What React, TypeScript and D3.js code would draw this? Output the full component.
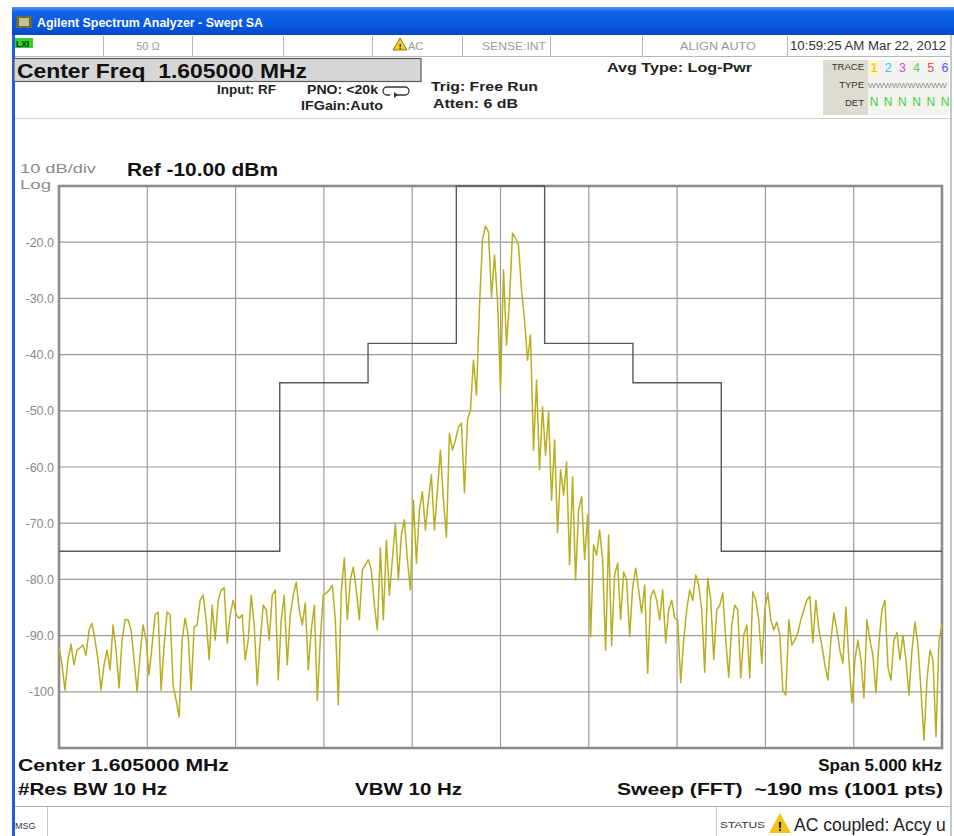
import React from 'react';
import * as d3 from 'd3';

const centerMHz = 1.605;
const spanKHz = 5;
const refLevelDbm = -10;
const bottomLevelDbm = -110;
const yTickValues = [-20, -30, -40, -50, -60, -70, -80, -90, -100];
const yTickLabels = ['-20.0', '-30.0', '-40.0', '-50.0', '-60.0', '-70.0', '-80.0', '-90.0', '-100'];
const xGridOffsetsKHz = [-2.5, -2, -1.5, -1, -0.5, 0, 0.5, 1, 1.5, 2, 2.5];
const yGridValues = [-10, -20, -30, -40, -50, -60, -70, -80, -90, -100, -110];
const maskOffsetsKHz = [-2.5, -1.25, -0.75, -0.25, 0.25, 0.75, 1.25, 2.5];
const maskLevelsDbm = [-75, -45, -38, -10, -38, -45, -75, -75];
const traceDigits = ['1', '2', '3', '4', '5', '6'];
const traceDigitColors = ['#f0b43a', '#3cc4f0', '#e04cdc', '#64cc64', '#f04c4c', '#5a5af0'];
const statusCells = [103, 192, 283, 372, 462, 550, 642, 787];

const traceDbm = [
  -92.0, -95.2, -99.7, -94.3, -91.5, -95.2, -92.6, -92.2, -91.7, -93.5, -89.0,
  -87.8, -90.8, -94.3, -99.7, -95.2, -92.6, -96.1, -88.1, -92.6, -99.3,
  -90.8, -87.2, -87.2, -89.0, -94.3, -100.0, -93.5, -88.1, -90.8, -97.0,
  -91.7, -86.3, -85.8, -99.7, -91.7, -85.8, -86.3, -98.8, -101.5, -104.5,
  -90.8, -86.9, -89.9, -99.7, -88.5, -88.1, -83.7, -82.8, -87.2, -94.3,
  -84.6, -90.8, -83.7, -81.9, -81.5, -91.3, -86.3, -83.7, -86.3, -86.9,
  -86.3, -94.3, -90.8, -82.8, -88.1, -98.8, -90.8, -84.6, -85.4, -90.8,
  -82.8, -81.9, -97.9, -87.2, -82.8, -95.2, -86.3, -82.8, -80.5, -85.4,
  -88.1, -84.2, -96.1, -89.0, -84.6, -101.5, -90.8, -82.8, -82.4, -81.9,
  -81.0, -87.2, -102.3, -81.9, -76.2, -87.2, -80.1, -77.8, -81.9, -87.2,
  -78.3, -77.4, -76.5, -78.3, -84.6, -89.0, -74.4, -87.2, -73.0, -82.8,
  -76.5, -70.0, -80.1, -72.1, -69.4, -76.5, -81.9, -65.9, -77.1, -67.7,
  -64.4, -71.2, -65.9, -61.4, -71.2, -64.1, -57.0, -65.9, -72.5, -54.0,
  -57.0, -55.2, -52.9, -52.2, -64.6, -51.6, -49.9, -41.0, -47.2, -31.5,
  -19.6, -17.1, -18.2, -29.8, -22.3, -30.3, -46.3, -24.9, -38.3, -30.3,
  -18.4, -19.3, -20.5, -28.5, -33.8, -41.0, -36.5, -57.0, -44.5, -60.5,
  -49.3, -57.9, -50.2, -65.9, -55.2, -71.7, -60.5, -65.0, -59.1, -77.4,
  -61.8, -80.1, -67.7, -65.3, -76.5, -68.5, -90.2, -73.9, -75.7, -71.2,
  -76.5, -92.6, -72.1, -91.7, -79.2, -77.1, -87.2, -78.7, -80.1, -90.2,
  -81.4, -78.0, -81.9, -86.0, -81.0, -96.7, -83.1, -81.9, -83.7, -87.2,
  -81.9, -91.3, -85.4, -83.7, -86.9, -87.2, -98.4, -90.8, -85.4, -81.9,
  -83.7, -79.2, -81.0, -85.4, -96.5, -79.8, -83.7, -94.3, -85.4, -84.6,
  -82.4, -90.8, -97.4, -88.1, -84.6, -85.4, -97.5, -89.9, -88.1, -97.5,
  -82.2, -83.7, -87.2, -94.9, -85.4, -82.4, -87.2, -89.0, -87.6, -89.9,
  -99.7, -100.6, -87.2, -91.7, -90.8, -89.5, -87.2, -85.4, -83.7, -83.0,
  -91.3, -83.7, -89.0, -91.7, -95.2, -97.9, -90.8, -86.0, -89.0, -92.6,
  -94.9, -84.9, -94.3, -102.0, -94.3, -90.8, -94.3, -101.1, -87.2, -90.8,
  -93.5, -100.2, -91.3, -85.4, -83.7, -95.6, -97.9, -90.8, -89.5, -94.3,
  -89.9, -94.3, -100.6, -92.6, -87.6, -91.7, -99.7, -108.6, -97.9, -92.6,
  -94.3, -108.0, -90.8, -88.1,
];

const W = 954;
const H = 836;
const plot = { left: 59, right: 942, top: 186, bottom: 748 };
const FONT = '"Liberation Sans", Arial, sans-serif';

export default function App() {
  const x = d3.scaleLinear().domain([-spanKHz / 2, spanKHz / 2]).range([plot.left, plot.right]);
  const y = d3.scaleLinear().domain([bottomLevelDbm, refLevelDbm]).range([plot.bottom, plot.top]);
  const n = traceDbm.length;
  const tracePts = traceDbm.map((v, i) => [-spanKHz / 2 + (i * spanKHz) / (n - 1), v] as [number, number]);
  const traceLine = d3.line<[number, number]>().x((d) => x(d[0])).y((d) => y(Math.max(bottomLevelDbm, d[1])));
  const maskPts = maskOffsetsKHz.map((f, i) => [f, maskLevelsDbm[i]] as [number, number]);
  const maskLine = d3.line<[number, number]>().x((d) => x(d[0])).y((d) => y(d[1])).curve(d3.curveStepAfter);

  const bold = { fontFamily: FONT, fontWeight: 700 } as const;

  return (
    <svg width={W} height={H} style={{ position: 'absolute', left: 0, top: 0, background: '#fff' }}>
      <defs>
        <linearGradient id="tb" x1="0" y1="0" x2="0" y2="1">
          <stop offset="0" stopColor="#4f95f6" />
          <stop offset="0.18" stopColor="#1363ea" />
          <stop offset="0.7" stopColor="#0656e0" />
          <stop offset="1" stopColor="#0a47c2" />
        </linearGradient>
      </defs>
      <rect x={0} y={0} width={W} height={H} fill="#fff" />
      {/* title bar */}
      <rect x={12} y={7} width={W - 12} height={28} fill="url(#tb)" />
      <rect x={16} y={16} width={16} height={12} fill="#6b6a3a" />
      <rect x={19} y={18} width={10} height={8} fill="#c8c090" />
      <text x={37} y={27} fill="#fff" fontSize={13} textLength={226} lengthAdjust="spacingAndGlyphs" style={bold}>
        Agilent Spectrum Analyzer - Swept SA
      </text>
      {/* left blue border */}
      <rect x={12} y={35} width={3} height={H - 35} fill="#1b5fe0" />
      <rect x={950} y={35} width={2} height={H - 35} fill="#c8c8c8" />
      {/* status row */}
      <line x1={15} x2={950} y1={56.5} y2={56.5} stroke="#b8b8b8" />
      {statusCells.map((cx) => (
        <line key={cx} x1={cx + 0.5} x2={cx + 0.5} y1={36} y2={56} stroke="#b8b8b8" />
      ))}
      <rect x={15} y={38} width={18} height={10} fill="#2fd02f" />
      <text x={16} y={47} fontSize={8.5} fill="#103010" style={bold}>LXI</text>
      <text x={148} y={50} fontSize={11} fill="#9a9a9a" textAnchor="middle" fontFamily={FONT}>50 Ω</text>
      <path d="M400,38 L407,50 L393,50 Z" fill="#f4d020" stroke="#6a5a00" strokeWidth={0.8} />
      <text x={400} y={49} fontSize={8} textAnchor="middle" fill="#000" style={bold}>!</text>
      <text x={408} y={50} fontSize={11} fill="#9a9a9a" fontFamily={FONT}>AC</text>
      <text x={482} y={50} fontSize={11} fill="#9a9a9a" fontFamily={FONT} textLength={64} lengthAdjust="spacingAndGlyphs">SENSE:INT</text>
      <text x={680} y={50} fontSize={11} fill="#9a9a9a" fontFamily={FONT} textLength={76} lengthAdjust="spacingAndGlyphs">ALIGN AUTO</text>
      <text x={790} y={50} fontSize={12.5} fill="#333" fontFamily={FONT} textLength={156} lengthAdjust="spacingAndGlyphs">10:59:25 AM Mar 22, 2012</text>
      {/* center freq box */}
      <rect x={14} y={58.5} width={407} height={23} fill="#d6d6d6" stroke="#5a5a5a" strokeWidth={1.2} />
      <text x={17} y={78} fontSize={20} fill="#111" textLength={290} lengthAdjust="spacingAndGlyphs" style={bold} xmlSpace="preserve">
        Center Freq  1.605000 MHz
      </text>
      <text x={217} y={94} fontSize={12} fill="#222" textLength={59} lengthAdjust="spacingAndGlyphs" style={bold}>Input: RF</text>
      <text x={307} y={94} fontSize={12} fill="#222" textLength={71} lengthAdjust="spacingAndGlyphs" style={bold}>PNO: &lt;20k</text>
      <path d="M387,87 h18 a4,4 0 0 1 0,8 h-10" fill="none" stroke="#333" strokeWidth={1.3} />
      <path d="M387,87 a4,4 0 0 0 0,8 h3" fill="none" stroke="#333" strokeWidth={1.3} />
      <path d="M394,92 l4,3 l-4,3 z" fill="#333" />
      <text x={301} y={110} fontSize={12} fill="#222" textLength={82} lengthAdjust="spacingAndGlyphs" style={bold}>IFGain:Auto</text>
      <text x={431} y={91} fontSize={13} fill="#222" textLength={107} lengthAdjust="spacingAndGlyphs" style={bold}>Trig: Free Run</text>
      <text x={433} y={108} fontSize={13} fill="#222" textLength={85} lengthAdjust="spacingAndGlyphs" style={bold}>Atten: 6 dB</text>
      <text x={607} y={72} fontSize={13} fill="#222" textLength={145} lengthAdjust="spacingAndGlyphs" style={bold}>Avg Type: Log-Pwr</text>
      {/* trace panel */}
      <rect x={823} y={60} width={45} height={55} fill="#dedbd0" />
      <rect x={868} y={60} width={81} height={55} fill="#f3f3ef" />
      <text x={864} y={70} fontSize={9.5} textAnchor="end" fill="#333" fontFamily={FONT}>TRACE</text>
      <text x={864} y={88} fontSize={9.5} textAnchor="end" fill="#333" fontFamily={FONT}>TYPE</text>
      <text x={864} y={106} fontSize={9.5} textAnchor="end" fill="#333" fontFamily={FONT}>DET</text>
      <rect x={869} y={61} width={10} height={14} fill="#fff6c0" />
      {traceDigits.map((d, i) => (
        <text key={d} x={874 + i * 14.2} y={72} fontSize={12.5} textAnchor="middle" fill={traceDigitColors[i]} fontFamily={FONT}>{d}</text>
      ))}
      <text x={868} y={88} fontSize={8} fill="#8a8a8a" fontFamily={FONT} textLength={79} lengthAdjust="spacingAndGlyphs">WWWWWWWWWW</text>
      {traceDigits.map((d, i) => (
        <text key={'n' + d} x={874 + i * 14.2} y={106} fontSize={12} textAnchor="middle" fill="#3fd03f" fontFamily={FONT}>N</text>
      ))}
      <line x1={15} x2={950} y1={118.5} y2={118.5} stroke="#cfcfcf" />
      {/* scale info */}
      <text x={20} y={173} fontSize={13.5} fill="#8a8a8a" fontFamily={FONT} textLength={76} lengthAdjust="spacingAndGlyphs">10 dB/div</text>
      <text x={20} y={189} fontSize={12.5} fill="#8a8a8a" fontFamily={FONT} textLength={31} lengthAdjust="spacingAndGlyphs">Log</text>
      <text x={127} y={176} fontSize={18} fill="#111" textLength={151} lengthAdjust="spacingAndGlyphs" style={bold}>Ref -10.00 dBm</text>
      {/* grid */}
      <g stroke="#9c9c9c" strokeWidth={1.2}>
        {xGridOffsetsKHz.map((f) => (
          <line key={'gx' + f} x1={x(f)} x2={x(f)} y1={plot.top} y2={plot.bottom} />
        ))}
        {yGridValues.map((v) => (
          <line key={'gy' + v} x1={plot.left} x2={plot.right} y1={y(v)} y2={y(v)} />
        ))}
      </g>
      <rect x={plot.left} y={plot.top} width={plot.right - plot.left} height={plot.bottom - plot.top} fill="none" stroke="#8c8c8c" strokeWidth={2.6} />
      {yTickValues.map((v, i) => (
        <text key={'yl' + v} x={54} y={y(v) + 4.5} fontSize={12.5} textAnchor="end" fill="#8a8a8a" fontFamily={FONT}>
          {yTickLabels[i]}
        </text>
      ))}
      {/* mask */}
      <path d={maskLine(maskPts) || ''} fill="none" stroke="#5a5a5a" strokeWidth={1.4} />
      {/* trace */}
      <path d={traceLine(tracePts) || ''} fill="none" stroke="#b8af20" strokeWidth={1.5} strokeLinejoin="round" />
      {/* bottom annotations */}
      <text x={18} y={771} fontSize={17} fill="#111" textLength={211} lengthAdjust="spacingAndGlyphs" style={bold}>
        Center {centerMHz.toFixed(6)} MHz
      </text>
      <text x={942} y={771} fontSize={17} fill="#111" textAnchor="end" style={bold}>Span 5.000 kHz</text>
      <text x={18} y={795} fontSize={17} fill="#111" textLength={149} lengthAdjust="spacingAndGlyphs" style={bold}>#Res BW 10 Hz</text>
      <text x={355} y={795} fontSize={17} fill="#111" textLength={107} lengthAdjust="spacingAndGlyphs" style={bold}>VBW 10 Hz</text>
      <text x={617} y={795} fontSize={17} fill="#111" textLength={326} lengthAdjust="spacingAndGlyphs" style={bold} xmlSpace="preserve">Sweep (FFT)  ~190 ms (1001 pts)</text>
      {/* status bar */}
      <line x1={15} x2={950} y1={806.5} y2={806.5} stroke="#b0b0b0" />
      <line x1={47.5} x2={47.5} y1={807} y2={836} stroke="#c8c8c8" />
      <line x1={716.5} x2={716.5} y1={807} y2={836} stroke="#c8c8c8" />
      <text x={15} y={829} fontSize={9} fill="#333" fontFamily={FONT}>MSG</text>
      <text x={720} y={828} fontSize={9} fill="#333" fontFamily={FONT} textLength={45} lengthAdjust="spacingAndGlyphs">STATUS</text>
      <path d="M780,813 L791,833 L769,833 Z" fill="#f4c418" />
      <text x={780} y={831} fontSize={13} textAnchor="middle" fill="#000" style={bold}>!</text>
      <text x={794} y={831} fontSize={17.5} fill="#222" fontFamily={FONT}>AC coupled: Accy u</text>
    </svg>
  );
}
